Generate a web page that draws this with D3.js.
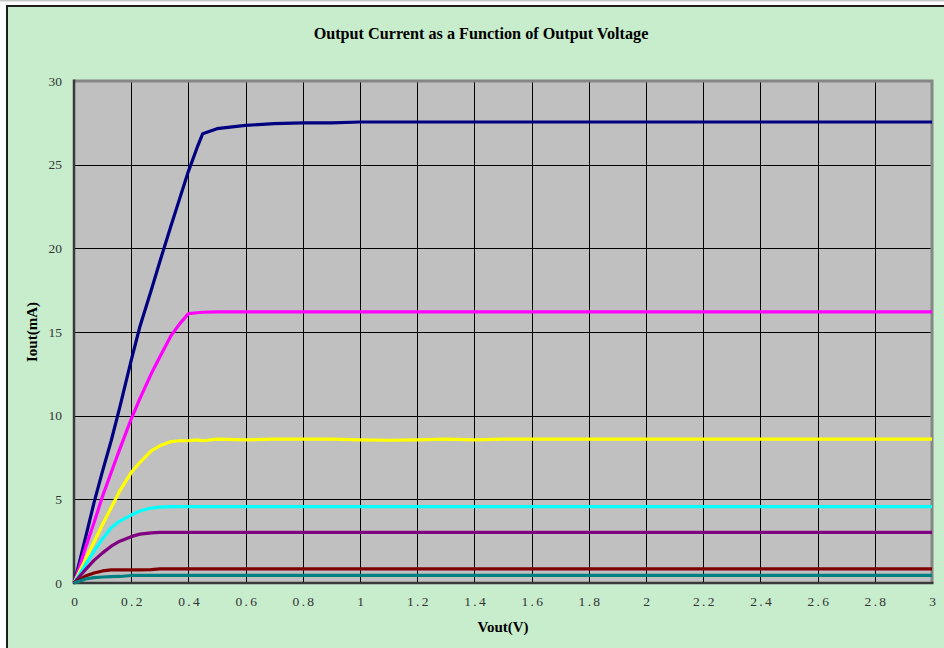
<!DOCTYPE html>
<html>
<head>
<meta charset="utf-8">
<script src="https://cdn.jsdelivr.net/npm/d3@7"></script>
<style>
  html, body { margin: 0; padding: 0; background: #ffffff; }
  svg { display: block; }
</style>
</head>
<body>
<svg id="chart" width="944" height="648"></svg>
<script>
// ---------- data ----------
const titleText = "Output Current as a Function of Output Voltage";
const xTitle = "Vout(V)";
const yTitle = "Iout(mA)";
const xTicks = [0, 0.2, 0.4, 0.6, 0.8, 1, 1.2, 1.4, 1.6, 1.8, 2, 2.2, 2.4, 2.6, 2.8, 3];
const yTicks = [0, 5, 10, 15, 20, 25, 30];

const vout = [0, 0.02, 0.04, 0.07, 0.1, 0.13, 0.16, 0.2, 0.23, 0.27, 0.3, 0.34, 0.37, 0.4, 0.43, 0.45,
              0.5, 0.6, 0.7, 0.8, 0.9, 1.0, 1.1, 1.2, 1.3, 1.4, 1.5, 1.6, 1.8, 2.0, 2.2, 2.4, 2.6, 2.8, 3.0];

const navy    = [0, 1.3, 2.7, 4.8, 6.7, 8.5, 10.5, 13.3, 15.3, 17.5, 19.2, 21.4, 23.0, 24.6, 26.0, 26.85,
                 27.15, 27.35, 27.45, 27.5, 27.5, 27.55, 27.55, 27.55, 27.55, 27.55, 27.55, 27.55, 27.55, 27.55, 27.55, 27.55, 27.55, 27.55, 27.55];
const magenta = [0, 1.0, 2.1, 3.6, 5.2, 6.6, 8.0, 9.8, 11.0, 12.5, 13.5, 14.8, 15.5, 16.1, 16.15, 16.18,
                 16.2, 16.2, 16.2, 16.2, 16.2, 16.2, 16.2, 16.2, 16.2, 16.2, 16.2, 16.2, 16.2, 16.2, 16.2, 16.2, 16.2, 16.2, 16.2];
const yellow  = [0, 0.7, 1.4, 2.45, 3.5, 4.5, 5.5, 6.6, 7.2, 7.9, 8.2, 8.45, 8.5, 8.5, 8.55, 8.5,
                 8.6, 8.55, 8.6, 8.6, 8.6, 8.55, 8.53, 8.55, 8.6, 8.55, 8.6, 8.6, 8.6, 8.6, 8.6, 8.6, 8.6, 8.6, 8.6];
const cyan    = [0, 0.55, 1.1, 1.9, 2.65, 3.3, 3.7, 4.06, 4.3, 4.48, 4.53, 4.56, 4.57, 4.57, 4.57, 4.57,
                 4.57, 4.57, 4.57, 4.57, 4.57, 4.57, 4.57, 4.57, 4.57, 4.57, 4.57, 4.57, 4.57, 4.57, 4.57, 4.57, 4.57, 4.57, 4.57];
const purple  = [0, 0.4, 0.8, 1.35, 1.8, 2.2, 2.5, 2.77, 2.92, 3.0, 3.03, 3.03, 3.03, 3.03, 3.03, 3.03,
                 3.03, 3.03, 3.03, 3.03, 3.03, 3.03, 3.03, 3.03, 3.03, 3.03, 3.03, 3.03, 3.03, 3.03, 3.03, 3.03, 3.03, 3.03, 3.03];
const darkred = [0, 0.2, 0.42, 0.6, 0.72, 0.78, 0.78, 0.79, 0.79, 0.8, 0.84, 0.85, 0.85, 0.85, 0.85, 0.85,
                 0.85, 0.85, 0.85, 0.85, 0.85, 0.85, 0.85, 0.85, 0.85, 0.85, 0.85, 0.85, 0.85, 0.85, 0.85, 0.85, 0.85, 0.85, 0.85];
const teal    = [0, 0.12, 0.24, 0.32, 0.36, 0.38, 0.39, 0.45, 0.46, 0.46, 0.46, 0.46, 0.46, 0.46, 0.46, 0.46,
                 0.46, 0.46, 0.46, 0.46, 0.46, 0.46, 0.46, 0.46, 0.46, 0.46, 0.46, 0.46, 0.46, 0.46, 0.46, 0.46, 0.46, 0.46, 0.46];

const seriesValues = [navy, magenta, yellow, cyan, purple, darkred, teal];
const seriesColors = ["#000080", "#FF00FF", "#FFFF00", "#00FFFF", "#800080", "#800000", "#008080"];

// ---------- layout ----------
const svg = d3.select("#chart");
const W = 944, H = 648;
const plot = { left: 74, right: 932, top: 81, bottom: 583 };

svg.append("rect").attr("x", 0).attr("y", 0).attr("width", W).attr("height", H).attr("fill", "#ffffff");
svg.append("line").attr("x1", 0).attr("x2", W).attr("y1", 0.5).attr("y2", 0.5).attr("stroke", "#c8c8c8").attr("stroke-width", 2);
// chart area
svg.append("rect").attr("x", 7).attr("y", 6).attr("width", W + 20).attr("height", H + 20)
  .attr("fill", "#C7EDCC").attr("stroke", "#1e1e1e").attr("stroke-width", 2);

const x = d3.scaleLinear().domain([0, 3]).range([plot.left, plot.right]);
const y = d3.scaleLinear().domain([0, 30]).range([plot.bottom, plot.top]);

// plot background
svg.append("rect").attr("x", plot.left).attr("y", plot.top)
  .attr("width", plot.right - plot.left).attr("height", plot.bottom - plot.top)
  .attr("fill", "#C0C0C0");

// grid
const grid = svg.append("g");
grid.selectAll("line.v").data(xTicks.slice(1, -1)).join("line")
  .attr("x1", d => Math.round(x(d)) + 0.5).attr("x2", d => Math.round(x(d)) + 0.5)
  .attr("y1", plot.top).attr("y2", plot.bottom)
  .attr("stroke", "#000").attr("stroke-width", 1);
grid.selectAll("line.h").data(yTicks.slice(1, -1)).join("line")
  .attr("y1", d => Math.round(y(d)) + 0.5).attr("y2", d => Math.round(y(d)) + 0.5)
  .attr("x1", plot.left).attr("x2", plot.right)
  .attr("stroke", "#000").attr("stroke-width", 1);

// frame: top/right light gray, left/bottom dark
svg.append("path")
  .attr("d", `M${plot.left},${plot.top}H${plot.right}V${plot.bottom}`)
  .attr("fill", "none").attr("stroke", "#868686").attr("stroke-width", 3);
svg.append("path")
  .attr("d", `M${plot.left},${plot.top - 1.5}V${plot.bottom}H${plot.right + 1.5}`)
  .attr("fill", "none").attr("stroke", "#3a3a3a").attr("stroke-width", 2.5);

// series
const line = d3.line().x((d, i) => x(vout[i])).y(d => y(d));
svg.append("g").selectAll("path").data(seriesValues).join("path")
  .attr("d", d => line(d))
  .attr("fill", "none")
  .attr("stroke", (d, i) => seriesColors[i])
  .attr("stroke-width", 3.2)
  .attr("stroke-linejoin", "round");

// axes (labels only)
const serif = "'Liberation Serif', 'Times New Roman', serif";
const fmtX = d => (d === 0 ? "0" : d3.format("~g")(d));
const xAxis = svg.append("g").attr("transform", `translate(0,${plot.bottom})`)
  .call(d3.axisBottom(x).tickValues(xTicks).tickFormat(fmtX).tickSize(0).tickPadding(13));
const yAxis = svg.append("g").attr("transform", `translate(${plot.left},0)`)
  .call(d3.axisLeft(y).tickValues(yTicks).tickSize(0).tickPadding(12));
[xAxis, yAxis].forEach(a => {
  a.select(".domain").remove();
  a.selectAll("text").attr("font-family", serif).attr("font-size", 13.5).attr("fill", "#333");
});
xAxis.selectAll("text").attr("letter-spacing", 2.3).attr("dx", 1.2);

// titles
svg.append("text").attr("x", 481).attr("y", 39).attr("text-anchor", "middle")
  .attr("font-family", serif)
  .attr("font-weight", "bold").attr("font-size", 16.2).attr("fill", "#000")
  .text(titleText);
svg.append("text").attr("x", (plot.left + plot.right) / 2).attr("y", 632).attr("text-anchor", "middle")
  .attr("font-family", serif)
  .attr("font-weight", "bold").attr("font-size", 15).attr("fill", "#000")
  .text(xTitle);
svg.append("text").attr("transform", `translate(37,${(plot.top + plot.bottom) / 2}) rotate(-90)`)
  .attr("text-anchor", "middle")
  .attr("font-family", serif)
  .attr("font-weight", "bold").attr("font-size", 15).attr("fill", "#000")
  .text(yTitle);
</script>
</body>
</html>
